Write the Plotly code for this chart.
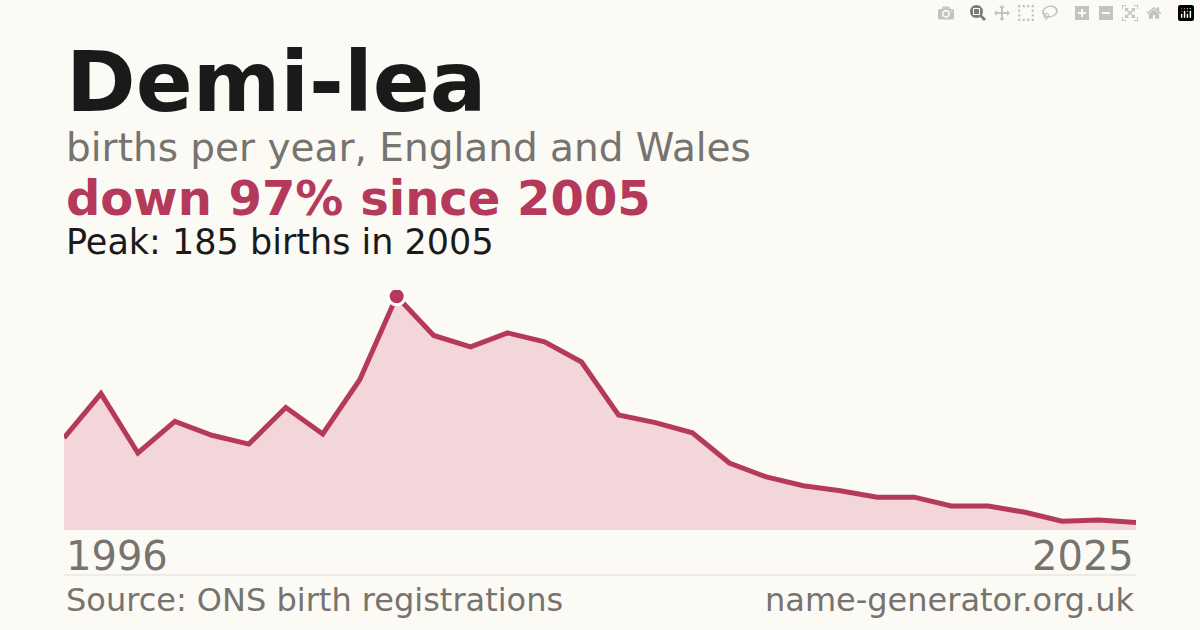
import plotly.graph_objects as go

years = list(range(1996, 2026))
births = [73, 108, 61, 86, 75, 68, 97, 76, 119, 185, 154, 145, 156, 149, 133,
          91, 85, 77, 53, 42, 35, 31, 26, 26, 19, 19, 14, 7, 8, 6]

name = "Demi-lea"
subtitle = "births per year, England and Wales"
red = "#b5395a"
grey = "#77736e"
bg = "#fbfaf5"

peak = max(births)
peak_year = years[births.index(peak)]
change = round((births[-1] - peak) / peak * 100)

fig = go.Figure()
fig.add_trace(go.Scatter(
    x=years, y=births, mode="lines", fill="tozeroy",
    fillcolor="rgba(232,170,185,0.45)",
    line=dict(color=red, width=5), hoverinfo="skip"
))
fig.add_trace(go.Scatter(
    x=[peak_year], y=[peak], mode="markers",
    marker=dict(color=red, size=17, line=dict(color="white", width=3)),
    hoverinfo="skip"
))

def txt(s, x, y, size, color, anchor="left", bold=False):
    fig.add_annotation(
        text=f"<b>{s}</b>" if bold else s, x=x, y=y, xref="paper", yref="paper",
        xanchor=anchor, yanchor="middle", showarrow=False,
        font=dict(family="DejaVu Sans", size=size, color=color)
    )

txt(name, 0, 1.867, 84, "#1a1a1a", bold=True)
txt(subtitle, 0, 1.592, 39, grey)
txt(f"down {abs(change)}% since {peak_year}", 0, 1.383, 48, red, bold=True)
txt(f"Peak: {peak} births in {peak_year}", 0, 1.2, 35, "#1a1a1a")
txt(str(years[0]), 0, -0.108, 40, grey)
txt(str(years[-1]), 1, -0.108, 40, grey, anchor="right")
txt("Source: ONS birth registrations", 0, -0.292, 32, grey)
txt("name-generator.org.uk", 1, -0.292, 32, grey, anchor="right")

fig.add_shape(type="line", xref="paper", yref="paper", x0=0, x1=1,
              y0=-0.1875, y1=-0.1875, line=dict(color="#e0ddd6", width=1))

fig.update_layout(
    width=1200, height=630, showlegend=False,
    paper_bgcolor=bg, plot_bgcolor=bg,
    margin=dict(l=64, r=64, t=290, b=100),
    xaxis=dict(range=[years[0], years[-1]], visible=False),
    yaxis=dict(range=[0, 190], visible=False),
)
fig.write_html("out.html")

# drop the browser's default body margin
with open("out.html", encoding="utf-8") as f:
    page = f.read()
page = page.replace("<body>", '<body style="margin:0">', 1)
with open("out.html", "w", encoding="utf-8") as f:
    f.write(page)
